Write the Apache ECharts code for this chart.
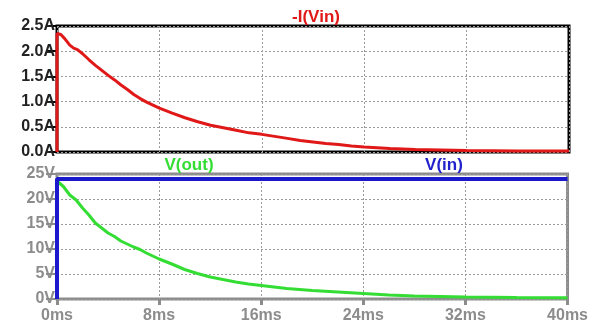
<!DOCTYPE html>
<html>
<head>
<meta charset="utf-8">
<script src="https://cdn.jsdelivr.net/npm/echarts@6/dist/echarts.min.js"></script>
<style>
  html, body { margin: 0; padding: 0; background: #fff; }
  #chart { width: 591px; height: 331px; }
</style>
</head>
<body>
<div id="chart"></div>
<script>
// Transient simulation: supply current and node voltages over 40 ms
const timeTicks = ['0ms', '8ms', '16ms', '24ms', '32ms', '40ms'];
const ampTicks = ['0.0A', '0.5A', '1.0A', '1.5A', '2.0A', '2.5A'];
const voltTicks = ['0V', '5V', '10V', '15V', '20V', '25V'];

// -I(Vin): [time ms, current A]
const iVin = [
  [0, 0], [0, 2.35], [0.3, 2.33], [0.6, 2.25], [1.0, 2.12], [1.3, 2.06], [1.6, 2.03],
  [2.0, 1.95], [2.5, 1.83], [3.0, 1.72], [3.5, 1.62], [4.0, 1.52], [4.5, 1.43],
  [5.0, 1.33], [5.5, 1.24], [6.0, 1.14], [6.5, 1.06], [7.0, 0.99], [7.5, 0.93],
  [8, 0.87], [9, 0.77], [10, 0.68], [11, 0.60], [12, 0.53], [13, 0.48], [14, 0.43],
  [15, 0.38], [16, 0.35], [17, 0.31], [18, 0.27], [19, 0.23], [20, 0.20], [21, 0.17],
  [22, 0.15], [23, 0.12], [24, 0.10], [26, 0.07], [28, 0.05], [30, 0.04], [32, 0.03],
  [36, 0.02], [40, 0.02]
];

// V(out): [time ms, volts]
const vOut = [
  [0, 23.6], [0.5, 22.5], [1.0, 20.8], [1.5, 19.8], [2.0, 18.2], [2.5, 16.8],
  [3.0, 15.2], [3.5, 14.2], [4.0, 13.2], [4.5, 12.5], [5.0, 11.6], [5.5, 11.0],
  [6.0, 10.4], [6.5, 9.9], [7.0, 9.2], [7.5, 8.6], [8, 8.0], [9, 7.0], [10, 5.9],
  [11, 5.1], [12, 4.4], [13, 3.9], [14, 3.4], [15, 3.0], [16, 2.7], [17, 2.4],
  [18, 2.1], [19, 1.9], [20, 1.7], [22, 1.4], [24, 1.1], [26, 0.8], [28, 0.6],
  [30, 0.5], [32, 0.4], [36, 0.3], [40, 0.25]
];

// V(in): step to 24 V at t = 0
const vIn = [[0, 0], [0, 24], [40, 24]];

const FONT = 'Liberation Sans, Arial, sans-serif';
const FS = 16;
const TITLE_FS = 17;
const gridLine = { show: true, lineStyle: { color: '#9a9a9a', type: [2, 2], width: 1 } };

const chart = echarts.init(document.getElementById('chart'), null, { renderer: 'canvas' });
chart.setOption({
  backgroundColor: '#ffffff',
  animation: false,
  title: [
    { text: '-I(Vin)', left: 311, top: 4, textAlign: 'center',
      textStyle: { color: '#e01818', fontSize: TITLE_FS, fontWeight: 'bold', fontFamily: FONT } },
    { text: 'V(out)', left: 184, top: 152, textAlign: 'center',
      textStyle: { color: '#33dd33', fontSize: TITLE_FS, fontWeight: 'bold', fontFamily: FONT } },
    { text: 'V(in)', left: 439, top: 152, textAlign: 'center',
      textStyle: { color: '#2222cc', fontSize: TITLE_FS, fontWeight: 'bold', fontFamily: FONT } }
  ],
  grid: [
    { left: 57, top: 26, width: 512, height: 126, show: true,
      borderColor: '#000000', borderWidth: 3, backgroundColor: '#ffffff' },
    { left: 57, top: 174, width: 512, height: 125, show: true,
      borderColor: '#8c8c8c', borderWidth: 3, backgroundColor: '#ffffff' }
  ],
  xAxis: [
    { type: 'value', gridIndex: 0, min: 0, max: 40, interval: 8,
      axisLine: { show: false }, axisTick: { show: false }, axisLabel: { show: false },
      splitLine: gridLine },
    { type: 'value', gridIndex: 1, min: 0, max: 40, interval: 8,
      axisLine: { show: false },
      axisTick: { show: true, length: 6, lineStyle: { color: '#8c8c8c', width: 3 } },
      axisLabel: { color: '#8c8c8c', fontSize: FS, fontWeight: 'bold', fontFamily: FONT, margin: 9,
        formatter: (v) => timeTicks[Math.round(v / 8)] },
      splitLine: gridLine }
  ],
  yAxis: [
    { type: 'value', gridIndex: 0, min: 0, max: 2.5, interval: 0.5,
      axisLine: { show: false },
      axisTick: { show: true, length: 11, lineStyle: { color: '#000', width: 2 } },
      axisLabel: { color: '#222', fontSize: FS, fontWeight: 'bold', fontFamily: FONT, margin: 2,
        formatter: (v) => ampTicks[Math.round(v / 0.5)] },
      splitLine: gridLine },
    { type: 'value', gridIndex: 1, min: 0, max: 25, interval: 5,
      axisLine: { show: false },
      axisTick: { show: true, length: 11, lineStyle: { color: '#8c8c8c', width: 2 } },
      axisLabel: { color: '#8c8c8c', fontSize: FS, fontWeight: 'bold', fontFamily: FONT, margin: 2,
        formatter: (v) => voltTicks[Math.round(v / 5)] },
      splitLine: gridLine }
  ],
  series: [
    { name: '-I(Vin)', type: 'line', xAxisIndex: 0, yAxisIndex: 0, data: iVin,
      showSymbol: false, clip: false, lineStyle: { color: '#e01818', width: 3 } },
    { name: 'V(out)', type: 'line', xAxisIndex: 1, yAxisIndex: 1, data: vOut,
      showSymbol: false, clip: false, lineStyle: { color: '#33dd33', width: 3 } },
    { name: 'V(in)', type: 'line', xAxisIndex: 1, yAxisIndex: 1, data: vIn,
      showSymbol: false, clip: false, lineStyle: { color: '#1a1acc', width: 4 } }
  ]
});
</script>
</body>
</html>
